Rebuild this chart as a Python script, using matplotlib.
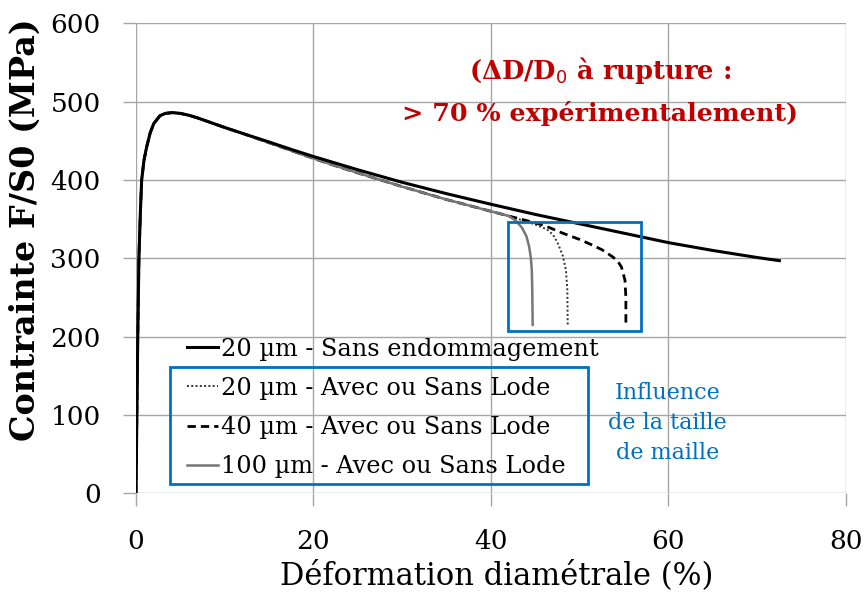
import matplotlib
matplotlib.use("Agg")
import matplotlib.pyplot as plt
from matplotlib.patches import Rectangle
from matplotlib.lines import Line2D

# ---- data ----
strain_main = [0, 0.1, 0.2, 0.33, 0.5, 0.64, 0.9, 1.2, 1.6, 2.0, 2.7, 3.3, 4.1, 5, 6, 7, 8, 10, 12, 15,
               17.5, 20, 22.5, 25, 30, 35, 40, 45, 50, 55, 60, 65, 70, 72.5]
stress_main = [0, 100, 200, 300, 360, 400, 425, 442, 460, 472, 482, 485, 486, 485, 482.5, 479, 475, 467, 459.5, 448.5,
               439, 430, 421.5, 413, 397, 382.5, 369, 356, 344, 332, 320, 310, 301, 297]

strain_common = [0, 0.1, 0.2, 0.33, 0.5, 0.64, 0.9, 1.2, 1.6, 2.0, 2.7, 3.3, 4.1, 5, 6, 7, 8, 10, 12, 15,
                 17.5, 20, 22.5, 25, 30, 35, 40, 41, 42]
stress_common = [0, 100, 200, 300, 360, 400, 425, 442, 460, 472, 482, 485, 486, 485, 482.5, 479, 475, 467, 459.5, 447.5,
                 437.5, 427.5, 418, 409, 391.5, 375, 360, 357, 354]

strain_20 = [44, 45, 46.3, 47, 47.5, 48.1, 48.45, 48.6, 48.65]
stress_20 = [347, 343, 337, 330, 320, 303, 285, 260, 215]

strain_40 = [44.4, 46, 48.1, 50, 51.2, 52.5, 53.7, 54.3, 54.7, 55.1, 55.2, 55.2]
stress_40 = [347, 342, 332, 324, 318, 311, 302, 296, 289, 272, 250, 215]

strain_100 = [42.8, 43.5, 44.0, 44.3, 44.5, 44.6, 44.65, 44.7]
stress_100 = [348, 339, 328, 315, 300, 285, 260, 215]

labels = ["20 µm - Sans endommagement",
          "20 µm - Avec ou Sans Lode",
          "40 µm - Avec ou Sans Lode",
          "100 µm - Avec ou Sans Lode"]

xticks = [0, 20, 40, 60, 80]
yticks = [0, 100, 200, 300, 400, 500, 600]

plt.rcParams['font.family'] = ['DejaVu Serif']

fig = plt.figure(figsize=(8.65, 5.98), dpi=100)
ax = fig.add_axes([0.1572, 0.1751, 0.8208, 0.7859])

grey = '#a6a6a6'
ax.set_xlim(0, 80)
ax.set_ylim(0, 600)
ax.set_xticks(xticks)
ax.set_yticks(yticks)
ax.grid(True, color=grey, lw=1.0)
ax.set_axisbelow(True)
for s in ax.spines.values():
    s.set_visible(False)
ax.tick_params(axis='both', length=9.5, width=1.0, color=grey, labelsize=19)
ax.tick_params(axis='y', pad=16)
ax.tick_params(axis='x', pad=16)

ax.plot(strain_common + strain_20, stress_common + stress_20, color='#333333', lw=1.4,
        ls=(0, (1, 1.2)), zorder=3)
ax.plot(strain_common + strain_40, stress_common + stress_40, color='black', lw=2.0,
        ls=(0, (3, 1.8)), zorder=3)
ax.plot(strain_common + strain_100, stress_common + stress_100, color='#777777', lw=1.8, zorder=3)
ax.plot(strain_main, stress_main, color='black', lw=2.2, zorder=4)

handles = [Line2D([], [], color='black', lw=2.2),
           Line2D([], [], color='#333333', lw=1.4, ls=(0, (1, 1.2))),
           Line2D([], [], color='black', lw=2.0, ls=(0, (3, 1.8))),
           Line2D([], [], color='#777777', lw=1.8)]
leg = ax.legend(handles, labels, loc='lower left', bbox_to_anchor=(0.058, 0.012),
                frameon=False, fontsize=17.3, handlelength=1.3, handletextpad=0.12,
                labelspacing=0.67, borderaxespad=0)

blue = '#0070C0'
ax.add_patch(Rectangle((0.048, 0.0198), 0.589, 0.249, transform=ax.transAxes,
                       fill=False, ec=blue, lw=2, zorder=5, clip_on=False))
ax.add_patch(Rectangle((41.9, 207.2), 15.0, 139.2, fill=False, ec=blue, lw=2, zorder=5))

ax.text(52.3, 540, "(ΔD/D$_0$ à rupture :", color='#C00000', fontsize=18.5, fontweight='bold',
        ha='center', va='center')
ax.text(52.3, 485.5, "> 70 % expérimentalement)", color='#C00000', fontsize=18.3, fontweight='bold',
        ha='center', va='center')
ax.text(59.9, 89.7, "Influence\nde la taille\nde maille", color=blue, fontsize=16,
        ha='center', va='center', linespacing=1.45)

ax.set_xlabel("Déformation diamétrale (%)", fontsize=22)
ax.xaxis.set_label_coords(0.508, -0.143)
ax.set_ylabel("Contrainte F/S0 (MPa)", fontsize=24, fontweight='bold')
ax.yaxis.set_label_coords(-0.133, 0.56)

fig.savefig("out.png", dpi=100)
